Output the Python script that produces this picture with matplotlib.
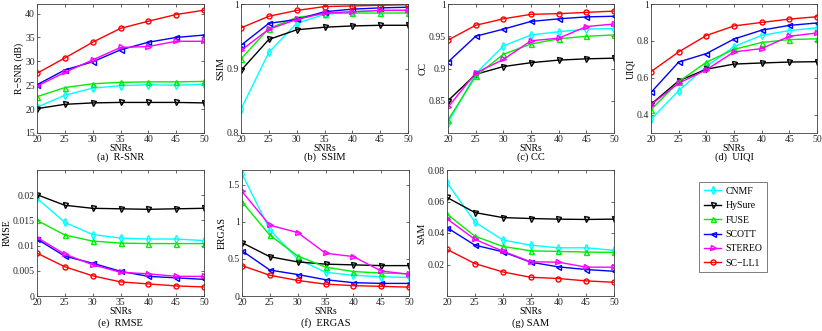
import matplotlib
matplotlib.use("Agg")
import matplotlib.pyplot as plt
from matplotlib.ticker import FuncFormatter

plt.rcParams['font.family'] = ['Liberation Serif', 'DejaVu Serif']
plt.rcParams['mathtext.fontset'] = 'stix'

snrs = [20, 25, 30, 35, 40, 45, 50]
methods = ['CNMF', 'HySure', 'FUSE', 'SCOTT', 'STEREO', 'SC\u2212LL1']
colors = ['#00ffff', '#000000', '#00ee00', '#0000ff', '#ff00ff', '#ff0000']
markers = ['d', 'v', '^', '<', '>', 'o']

rsnr = [
    [20.4, 22.9, 24.4, 24.9, 25.1, 25.0, 25.2],
    [20.1, 21.0, 21.3, 21.4, 21.4, 21.4, 21.3],
    [22.6, 24.5, 25.3, 25.6, 25.7, 25.7, 25.8],
    [25.1, 28.2, 29.9, 32.4, 34.0, 35.0, 35.5],
    [24.8, 27.7, 30.3, 32.9, 33.1, 34.2, 34.2],
    [27.5, 30.7, 34.0, 36.9, 38.4, 39.8, 40.7],
]
ssim = [
    [0.837, 0.925, 0.970, 0.984, 0.988, 0.990, 0.991],
    [0.897, 0.945, 0.960, 0.964, 0.966, 0.967, 0.967],
    [0.915, 0.962, 0.979, 0.985, 0.986, 0.986, 0.986],
    [0.936, 0.970, 0.976, 0.988, 0.992, 0.994, 0.995],
    [0.928, 0.961, 0.976, 0.986, 0.988, 0.990, 0.990],
    [0.963, 0.981, 0.990, 0.996, 0.997, 0.998, 0.999],
]
cc = [
    [0.816, 0.892, 0.935, 0.952, 0.957, 0.961, 0.962],
    [0.850, 0.891, 0.903, 0.909, 0.913, 0.915, 0.916],
    [0.820, 0.888, 0.922, 0.938, 0.946, 0.950, 0.952],
    [0.910, 0.950, 0.961, 0.973, 0.977, 0.980, 0.981],
    [0.840, 0.893, 0.914, 0.943, 0.947, 0.965, 0.969],
    [0.944, 0.967, 0.977, 0.984, 0.985, 0.987, 0.989],
]
uiqi = [
    [0.374, 0.530, 0.661, 0.769, 0.830, 0.856, 0.871],
    [0.456, 0.583, 0.646, 0.674, 0.680, 0.685, 0.687],
    [0.426, 0.578, 0.684, 0.754, 0.791, 0.807, 0.811],
    [0.520, 0.685, 0.731, 0.810, 0.858, 0.884, 0.897],
    [0.454, 0.570, 0.643, 0.740, 0.758, 0.825, 0.843],
    [0.633, 0.740, 0.829, 0.881, 0.900, 0.918, 0.931],
]
rmse = [
    [0.0194, 0.0146, 0.0122, 0.0115, 0.0113, 0.0113, 0.0110],
    [0.0201, 0.0180, 0.0174, 0.0173, 0.0172, 0.0173, 0.0174],
    [0.0150, 0.0121, 0.0109, 0.0105, 0.0104, 0.0104, 0.0104],
    [0.0113, 0.0079, 0.0065, 0.0049, 0.0039, 0.0036, 0.0033],
    [0.0116, 0.0083, 0.0062, 0.0047, 0.0044, 0.0039, 0.0039],
    [0.0085, 0.0058, 0.0040, 0.0028, 0.0024, 0.0020, 0.0018],
]
ergas = [
    [1.65, 0.89, 0.50, 0.32, 0.28, 0.26, 0.25],
    [0.72, 0.53, 0.46, 0.43, 0.42, 0.41, 0.41],
    [1.27, 0.82, 0.54, 0.39, 0.33, 0.31, 0.30],
    [0.61, 0.35, 0.29, 0.22, 0.18, 0.17, 0.17],
    [1.41, 0.955, 0.856, 0.577, 0.532, 0.338, 0.293],
    [0.41, 0.28, 0.21, 0.16, 0.14, 0.13, 0.12],
]
sam = [
    [0.0720, 0.0470, 0.0356, 0.0323, 0.0306, 0.0306, 0.0290],
    [0.0626, 0.0530, 0.0498, 0.0492, 0.0488, 0.0486, 0.0488],
    [0.0520, 0.0380, 0.0315, 0.0287, 0.0283, 0.0279, 0.0277],
    [0.0434, 0.0323, 0.0281, 0.0215, 0.0185, 0.0168, 0.0157],
    [0.0490, 0.0360, 0.0285, 0.0217, 0.0215, 0.0183, 0.0183],
    [0.0296, 0.0206, 0.0153, 0.0119, 0.0111, 0.0096, 0.0087],
]

W, H = 822, 331
fig = plt.figure(figsize=(W / 100, H / 100), dpi=100)

def rect(x0, y0, x1, y1):
    return [x0 / W, 1 - y1 / H, (x1 - x0) / W, (y1 - y0) / H]

panels = [
    (rsnr, 'R\u2212SNR (dB)', '(a)  R-SNR', (15, 42), [15, 20, 25, 30, 35, 40], rect(37, 4, 204, 133), 157),
    (ssim, 'SSIM', '(b)  SSIM', (0.8, 1.0), [0.8, 0.9, 1.0], rect(241, 4, 408, 133), 157),
    (cc, 'CC', '(c) CC', (0.8, 1.0), [0.85, 0.9, 0.95, 1.0], rect(448, 4, 614, 133), 157),
    (uiqi, 'UIQI', '(d)  UIQI', (0.3, 1.0), [0.4, 0.6, 0.8, 1.0], rect(651, 4, 817, 133), 157),
    (rmse, 'RMSE', '(e)  RMSE', (0, 0.025), [0, 0.005, 0.01, 0.015, 0.02], rect(37, 170, 204, 296), 323),
    (ergas, 'ERGAS', '(f)  ERGAS', (0, 1.7), [0, 0.5, 1, 1.5], rect(242, 170, 409, 296), 323),
    (sam, 'SAM', '(g) SAM', (0, 0.08), [0.02, 0.04, 0.06, 0.08], rect(447, 170, 614, 296), 323),
]

fmt = FuncFormatter(lambda v, p: f'{v:g}')
handles = None
for data, ylab, cap, ylim, yt, r, capy in panels:
    ax = fig.add_axes(r)
    hs = []
    for vals, c, m, name in zip(data, colors, markers, methods):
        h, = ax.plot(snrs, vals, color=c, marker=m, markersize=3.6,
                     markerfacecolor='none', markeredgewidth=1.0,
                     linewidth=1.0, label=name)
        hs.append(h)
    handles = hs
    ax.set_xlim(20, 50)
    ax.set_ylim(*ylim)
    ax.set_xticks(snrs)
    ax.set_yticks(yt)
    ax.yaxis.set_major_formatter(fmt)
    ax.tick_params(direction='in', length=2, width=0.5, labelsize=7,
                   top=True, right=True, pad=1.5, colors='#262626')
    for s in ax.spines.values():
        s.set_linewidth(0.6)
        s.set_color('#404040')
    ax.set_xlabel('SNRs', fontsize=7, labelpad=0)
    ax.set_ylabel(ylab, fontsize=7, labelpad=1)
    fig.text(r[0] + r[2] / 2, 1 - capy / H, cap, ha='center', va='center', fontsize=7.5)

leg = fig.legend(handles=handles, labels=methods, loc='upper left',
                 bbox_to_anchor=(699 / W, 1 - 182 / H), fontsize=7,
                 frameon=True, fancybox=False, edgecolor='#404040',
                 handlelength=1.8, handletextpad=0.4, labelspacing=0.55,
                 borderpad=0.5, borderaxespad=0)
leg.get_frame().set_linewidth(0.6)

fig.savefig('out.png', dpi=100)
